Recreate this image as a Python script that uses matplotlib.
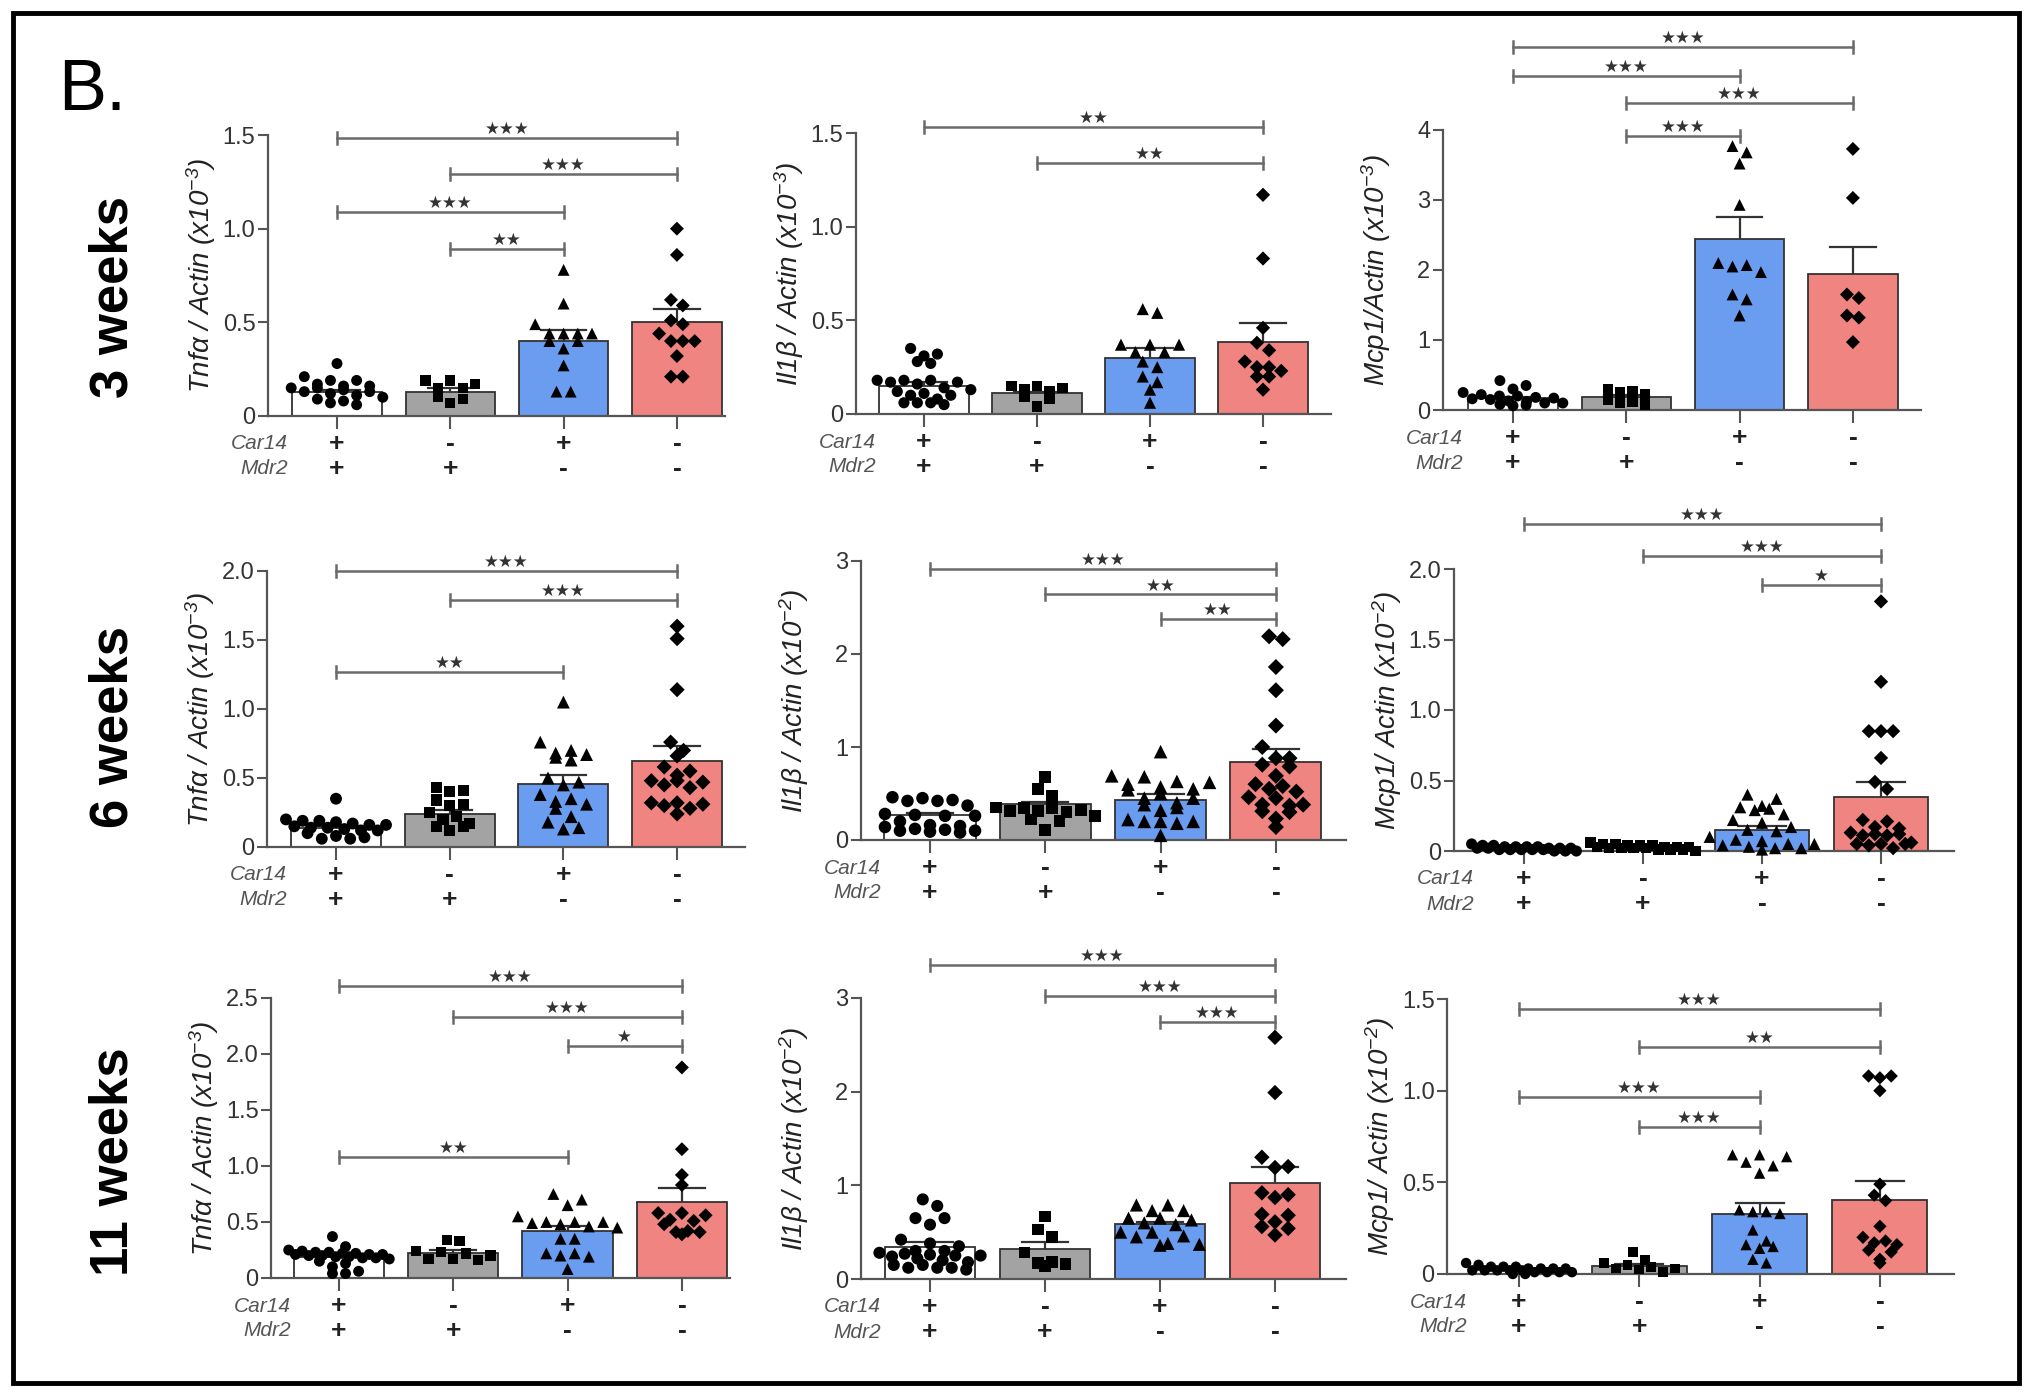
import matplotlib
matplotlib.use("Agg")
import matplotlib.pyplot as plt
import matplotlib.transforms as mtransforms
from matplotlib.patches import Rectangle
import numpy as np

# === CONFIGURATION ===
OUTPUT_FILENAME = "out.png"
W, H = 2036, 1394
DPI = 100

plt.rcParams['font.family'] = ['Liberation Sans', 'DejaVu Sans']
plt.rcParams['mathtext.default'] = 'regular'

# --- DATA ---
groups = ["Car14+/Mdr2+", "Car14-/Mdr2+", "Car14+/Mdr2-", "Car14-/Mdr2-"]
car14_signs = ["+", "-", "+", "-"]
mdr2_signs = ["+", "+", "-", "-"]

# 3 weeks
tnf_3w_pts = [
    [0.28, 0.21, 0.19, 0.19, 0.17, 0.16, 0.16, 0.15, 0.15, 0.14, 0.13, 0.13, 0.12, 0.11, 0.10, 0.09, 0.08, 0.07, 0.06],
    [0.19, 0.19, 0.17, 0.15, 0.15, 0.10, 0.09, 0.07],
    [0.78, 0.60, 0.49, 0.44, 0.44, 0.44, 0.44, 0.40, 0.40, 0.36, 0.27, 0.13, 0.13],
    [1.00, 0.86, 0.62, 0.59, 0.51, 0.49, 0.44, 0.40, 0.40, 0.40, 0.32, 0.21, 0.21],
]
tnf_3w_mean = [0.13, 0.13, 0.40, 0.50]
tnf_3w_sem = [0.01, 0.02, 0.06, 0.07]
tnf_3w_sig = [(0, 3, '***'), (1, 3, '***'), (0, 2, '***'), (1, 2, '**')]

il1b_3w_pts = [
    [0.35, 0.32, 0.31, 0.28, 0.27, 0.18, 0.18, 0.18, 0.17, 0.17, 0.16, 0.14, 0.13, 0.12, 0.11, 0.10, 0.10, 0.08, 0.06, 0.06, 0.06, 0.05],
    [0.15, 0.15, 0.14, 0.13, 0.12, 0.09, 0.08, 0.04],
    [0.56, 0.54, 0.37, 0.37, 0.37, 0.33, 0.33, 0.28, 0.25, 0.20, 0.17, 0.13, 0.06],
    [1.17, 0.83, 0.46, 0.38, 0.34, 0.28, 0.25, 0.25, 0.23, 0.20, 0.20, 0.13],
]
il1b_3w_mean = [0.15, 0.11, 0.30, 0.385]
il1b_3w_sem = [0.02, 0.01, 0.05, 0.10]
il1b_3w_sig = [(0, 3, '**'), (1, 3, '**')]

mcp1_3w_pts = [
    [0.42, 0.35, 0.30, 0.25, 0.22, 0.20, 0.20, 0.18, 0.17, 0.16, 0.15, 0.13, 0.12, 0.10, 0.10, 0.08, 0.07, 0.06],
    [0.30, 0.27, 0.25, 0.22, 0.15, 0.12, 0.10, 0.08],
    [3.77, 3.68, 3.52, 2.93, 2.10, 2.07, 2.05, 1.97, 1.65, 1.58, 1.35],
    [3.73, 3.03, 1.65, 1.60, 1.35, 1.32, 0.97],
]
mcp1_3w_mean = [0.17, 0.18, 2.45, 1.94]
mcp1_3w_sem = [0.02, 0.03, 0.31, 0.39]
mcp1_3w_sig = [(0, 3, '***'), (0, 2, '***'), (1, 3, '***'), (1, 2, '***')]

# 6 weeks
tnf_6w_pts = [
    [0.35, 0.20, 0.19, 0.19, 0.18, 0.17, 0.16, 0.16, 0.15, 0.14, 0.14, 0.13, 0.12, 0.12, 0.10, 0.08, 0.07, 0.06, 0.06],
    [0.43, 0.41, 0.40, 0.34, 0.31, 0.30, 0.25, 0.22, 0.20, 0.17, 0.15, 0.15, 0.12],
    [1.05, 0.76, 0.70, 0.68, 0.67, 0.65, 0.63, 0.50, 0.47, 0.45, 0.38, 0.35, 0.33, 0.31, 0.28, 0.22, 0.18, 0.14, 0.13],
    [1.60, 1.51, 1.14, 0.76, 0.70, 0.66, 0.58, 0.55, 0.52, 0.48, 0.48, 0.47, 0.45, 0.43, 0.32, 0.32, 0.31, 0.30, 0.28, 0.24],
]
tnf_6w_mean = [0.137, 0.24, 0.46, 0.625]
tnf_6w_sem = [0.015, 0.03, 0.06, 0.105]
tnf_6w_sig = [(0, 3, '***'), (1, 3, '***'), (0, 2, '**')]

il1b_6w_pts = [
    [0.46, 0.45, 0.43, 0.42, 0.42, 0.37, 0.28, 0.27, 0.26, 0.26, 0.20, 0.16, 0.15, 0.14, 0.12, 0.11, 0.10, 0.10, 0.09, 0.08],
    [0.68, 0.55, 0.47, 0.35, 0.34, 0.34, 0.32, 0.31, 0.31, 0.30, 0.26, 0.22, 0.20, 0.11],
    [0.95, 0.69, 0.68, 0.63, 0.62, 0.60, 0.57, 0.55, 0.54, 0.50, 0.45, 0.45, 0.40, 0.38, 0.35, 0.32, 0.22, 0.20, 0.20, 0.20, 0.18, 0.05],
    [2.19, 2.16, 1.86, 1.61, 1.23, 1.00, 0.88, 0.88, 0.81, 0.79, 0.69, 0.60, 0.58, 0.55, 0.52, 0.46, 0.45, 0.38, 0.38, 0.37, 0.31, 0.30, 0.23, 0.14],
]
il1b_6w_mean = [0.27, 0.39, 0.43, 0.84]
il1b_6w_sem = [0.02, 0.02, 0.06, 0.135]
il1b_6w_sig = [(0, 3, '***'), (1, 3, '**'), (2, 3, '**')]

mcp1_6w_pts = [
    [0.05, 0.04, 0.04, 0.03, 0.03, 0.03, 0.03, 0.02, 0.02, 0.02, 0.02, 0.02, 0.01, 0.01, 0.01, 0.01, 0.01, 0.00, 0.00, 0.00],
    [0.06, 0.05, 0.05, 0.04, 0.04, 0.04, 0.03, 0.03, 0.03, 0.03, 0.02, 0.02, 0.02, 0.02, 0.01, 0.01, 0.01, 0.00],
    [0.40, 0.37, 0.32, 0.31, 0.30, 0.29, 0.26, 0.22, 0.20, 0.17, 0.15, 0.14, 0.10, 0.08, 0.07, 0.05, 0.05, 0.04, 0.03, 0.02, 0.02, 0.01],
    [1.77, 1.20, 0.85, 0.85, 0.85, 0.66, 0.49, 0.44, 0.22, 0.21, 0.17, 0.16, 0.13, 0.12, 0.12, 0.11, 0.11, 0.06, 0.05, 0.05, 0.05, 0.04, 0.02],
]
mcp1_6w_mean = [0.02, 0.03, 0.15, 0.385]
mcp1_6w_sem = [0.003, 0.004, 0.03, 0.105]
mcp1_6w_sig = [(0, 3, '***'), (1, 3, '***'), (2, 3, '*')]

# 11 weeks
tnf_11w_pts = [
    [0.37, 0.28, 0.25, 0.24, 0.23, 0.23, 0.22, 0.22, 0.21, 0.21, 0.21, 0.20, 0.20, 0.19, 0.19, 0.18, 0.18, 0.17, 0.15, 0.13, 0.10, 0.06, 0.04, 0.04],
    [0.34, 0.33, 0.24, 0.23, 0.22, 0.20, 0.17, 0.17, 0.16],
    [0.75, 0.70, 0.65, 0.55, 0.50, 0.50, 0.50, 0.49, 0.48, 0.46, 0.45, 0.35, 0.35, 0.22, 0.22, 0.20, 0.19, 0.08],
    [1.88, 1.15, 0.92, 0.83, 0.58, 0.58, 0.56, 0.52, 0.51, 0.48, 0.42, 0.41, 0.41, 0.39],
]
tnf_11w_mean = [0.19, 0.22, 0.42, 0.68]
tnf_11w_sem = [0.015, 0.03, 0.04, 0.12]
tnf_11w_sig = [(0, 3, '***'), (1, 3, '***'), (2, 3, '*'), (0, 2, '**')]

il1b_11w_pts = [
    [0.85, 0.78, 0.65, 0.65, 0.58, 0.42, 0.38, 0.35, 0.30, 0.30, 0.28, 0.27, 0.26, 0.25, 0.25, 0.24, 0.22, 0.20, 0.18, 0.15, 0.15, 0.12, 0.12, 0.12, 0.10],
    [0.67, 0.53, 0.45, 0.28, 0.18, 0.17, 0.16, 0.14],
    [0.79, 0.79, 0.73, 0.73, 0.65, 0.65, 0.63, 0.60, 0.58, 0.50, 0.50, 0.46, 0.45, 0.38, 0.37, 0.36],
    [2.58, 1.99, 1.30, 1.20, 1.19, 0.92, 0.90, 0.87, 0.69, 0.68, 0.61, 0.56, 0.54, 0.47],
]
il1b_11w_mean = [0.34, 0.32, 0.585, 1.03]
il1b_11w_sem = [0.05, 0.08, 0.025, 0.17]
il1b_11w_sig = [(0, 3, '***'), (1, 3, '***'), (2, 3, '***')]

mcp1_11w_pts = [
    [0.06, 0.05, 0.04, 0.04, 0.04, 0.03, 0.03, 0.03, 0.03, 0.02, 0.02, 0.02, 0.02, 0.02, 0.01, 0.01, 0.01, 0.01, 0.00, 0.00],
    [0.12, 0.075, 0.06, 0.05, 0.04, 0.03, 0.03, 0.025, 0.01],
    [0.65, 0.65, 0.64, 0.61, 0.59, 0.55, 0.35, 0.34, 0.34, 0.33, 0.24, 0.18, 0.16, 0.15, 0.14, 0.08, 0.06],
    [1.08, 1.08, 1.07, 1.00, 0.49, 0.43, 0.40, 0.26, 0.20, 0.18, 0.17, 0.16, 0.13, 0.12, 0.08, 0.06],
]
mcp1_11w_mean = [0.02, 0.045, 0.33, 0.405]
mcp1_11w_sem = [0.003, 0.011, 0.06, 0.10]
mcp1_11w_sig = [(0, 3, '***'), (1, 3, '**'), (0, 2, '***'), (1, 2, '***')]

row_labels = ["3 weeks", "6 weeks", "11 weeks"]

# --- LAYOUT (figure pixels) ---
# axis x, baseline y, top-of-axis y, right end of x axis, first bar centre x, bar spacing
panel_boxes = [
    (268, 416, 135, 725, 337, 113.3), (856, 414, 133, 1331, 924, 113.0), (1443, 410, 130, 1921, 1513, 113.3),
    (267, 847, 571, 745, 336, 113.7), (861, 840, 561, 1346, 930, 115.3), (1454, 851, 569, 1954, 1524, 119.0),
    (271, 1278, 998, 730, 339, 114.3), (861, 1279, 998, 1346, 930, 115.0), (1447, 1274, 999, 1954, 1519, 120.3),
]
marker_scale = [1.1, 1.15, 1.1, 1.3, 1.45, 1.15, 1.1, 1.35, 1.0]
bracket_levels = [
    [1.485, 1.29, 1.09, 0.89], [1.53, 1.34], [5.18, 4.77, 4.38, 3.92],
    [2.0, 1.79, 1.27], [2.91, 2.64, 2.38], [2.32, 2.09, 1.89],
    [2.61, 2.33, 2.07, 1.08], [3.35, 3.02, 2.74], [1.445, 1.24, 0.968, 0.80],
]
row_label_y = [297, 727, 1162]

bar_colors = ['#ffffff', '#a3a3a3', '#6a9cf0', '#ef8480']
markers = ['o', 's', '^', 'D']
marker_sizes = [56, 50, 66, 46]
axis_color = '#555555'


def row_spread(vals, ppu, d, step, maxhalf):
    # GraphPad-like scatter: points closer than d (px) share a row and are spread sideways
    vals = np.asarray(vals, dtype=float)
    order = np.argsort(-vals, kind='stable')
    rows = []
    cur = [order[0]]
    start = vals[order[0]] * ppu
    for idx in order[1:]:
        if start - vals[idx] * ppu < d:
            cur.append(idx)
        else:
            rows.append(cur)
            cur = [idx]
            start = vals[idx] * ppu
    rows.append(cur)
    offs = np.zeros(len(vals))
    for row in rows:
        n = len(row)
        if n == 1:
            continue
        st = min(step, 2 * maxhalf / (n - 1))
        slots = [(j - (n - 1) / 2.0) * st for j in range(n)]
        # interleave so the row does not form a slope
        seq = list(range(0, n, 2)) + list(range(1, n, 2))
        for k, idx in enumerate(row):
            offs[idx] = slots[seq[k]]
    return offs


def ylabel_text(gene, sep, exp):
    return gene + sep + "Actin (x10$^{" + exp + "}$)"


def draw_panel(fig, box, mscale, pts, means, sems, sigs, levels, ymax, ticks, ticklabels, ylab):
    ax_x, y0, ytop, xend, first_c, spacing = box
    wpx = xend - ax_x
    hpx = y0 - ytop
    ax = fig.add_axes([ax_x / W, 1 - y0 / H, wpx / W, hpx / H])
    ax.patch.set_alpha(0)
    x_left = -(first_c - ax_x) / spacing
    ax.set_xlim(x_left, x_left + wpx / spacing)
    ax.set_ylim(0, ymax)
    ppu = hpx / ymax

    xs = np.arange(4)
    ax.bar(xs, means, width=0.79, color=bar_colors, edgecolor='#333333', linewidth=1.3, zorder=1)
    for i in range(4):
        top = means[i] + sems[i]
        ax.plot([i, i], [means[i], top], color='#333333', lw=1.6, zorder=2, solid_capstyle='butt')
        ax.plot([i - 0.2, i + 0.2], [top, top], color='#333333', lw=1.6, zorder=2)
        s = marker_sizes[i] * mscale
        diam = np.sqrt(s) * DPI / 72.0
        offs = row_spread(pts[i], ppu, 1.0 * diam, 1.2 * diam, 0.44 * spacing) / spacing
        ax.scatter(i + offs, pts[i], marker=markers[i], s=s, color='black',
                   edgecolors='none', zorder=3, clip_on=False)

    for spine in ['top', 'right']:
        ax.spines[spine].set_visible(False)
    for spine in ['left', 'bottom']:
        ax.spines[spine].set_color(axis_color)
        ax.spines[spine].set_linewidth(1.6)
    ax.set_yticks(ticks)
    ax.set_yticklabels(ticklabels, fontsize=17, color='#333333')
    ax.tick_params(axis='y', length=7, width=1.5, color=axis_color, pad=2)
    ax.set_xticks(xs)
    ax.set_xticklabels([])
    ax.tick_params(axis='x', length=9, width=1.5, color=axis_color)

    ax.text(-67.0 / wpx, 0.5, ylab, transform=ax.transAxes, rotation=90, ha='center', va='center',
            fontsize=20, style='italic', color='#222222')

    # genotype rows
    trans = mtransforms.blended_transform_factory(ax.transData, ax.transAxes)
    for r, (name, signs) in enumerate([("Car14", car14_signs), ("Mdr2", mdr2_signs)]):
        yy = -(28 + 25 * r) / hpx
        ax.text(x_left + 20 / spacing, yy, name, transform=trans, ha='right', va='center',
                fontsize=15, style='italic', color='#555555')
        for i, sg in enumerate(signs):
            ax.text(i, yy, sg, transform=trans, ha='center', va='center', fontsize=19,
                    fontweight='bold', color='#222222')

    # significance brackets
    tick_h = 6.0 / ppu
    for (a, b, lab), lev in zip(sigs, levels):
        ax.plot([a, b], [lev, lev], color='#6a6a6a', lw=1.8, clip_on=False, zorder=4)
        for xe in (a, b):
            ax.plot([xe, xe], [lev - tick_h, lev + tick_h], color='#6a6a6a', lw=1.8,
                    clip_on=False, zorder=4)
        stars = "\u2605" * len(lab)
        ax.text((a + b) / 2.0, lev + 4.0 / ppu, stars, ha='center', va='baseline', fontsize=12,
                color='#333333', family='DejaVu Sans', clip_on=False)
    return ax


def main():
    fig = plt.figure(figsize=(W / DPI, H / DPI), dpi=DPI)
    fig.patch.set_facecolor('white')

    t15 = ([0, 0.5, 1.0, 1.5], ['0', '0.5', '1.0', '1.5'])
    t20 = ([0, 0.5, 1.0, 1.5, 2.0], ['0', '0.5', '1.0', '1.5', '2.0'])
    t25 = ([0, 0.5, 1.0, 1.5, 2.0, 2.5], ['0', '0.5', '1.0', '1.5', '2.0', '2.5'])
    t3 = ([0, 1, 2, 3], ['0', '1', '2', '3'])
    t4 = ([0, 1, 2, 3, 4], ['0', '1', '2', '3', '4'])

    panels = [
        (tnf_3w_pts, tnf_3w_mean, tnf_3w_sem, tnf_3w_sig, 1.5, t15, ylabel_text("Tnf\u03b1", " / ", "-3")),
        (il1b_3w_pts, il1b_3w_mean, il1b_3w_sem, il1b_3w_sig, 1.5, t15, ylabel_text("Il1\u03b2", " / ", "-3")),
        (mcp1_3w_pts, mcp1_3w_mean, mcp1_3w_sem, mcp1_3w_sig, 4, t4, ylabel_text("Mcp1", "/", "-3")),
        (tnf_6w_pts, tnf_6w_mean, tnf_6w_sem, tnf_6w_sig, 2.0, t20, ylabel_text("Tnf\u03b1", " / ", "-3")),
        (il1b_6w_pts, il1b_6w_mean, il1b_6w_sem, il1b_6w_sig, 3, t3, ylabel_text("Il1\u03b2", " / ", "-2")),
        (mcp1_6w_pts, mcp1_6w_mean, mcp1_6w_sem, mcp1_6w_sig, 2.0, t20, ylabel_text("Mcp1", "/ ", "-2")),
        (tnf_11w_pts, tnf_11w_mean, tnf_11w_sem, tnf_11w_sig, 2.5, t25, ylabel_text("Tnf\u03b1", " / ", "-3")),
        (il1b_11w_pts, il1b_11w_mean, il1b_11w_sem, il1b_11w_sig, 3, t3, ylabel_text("Il1\u03b2", " / ", "-2")),
        (mcp1_11w_pts, mcp1_11w_mean, mcp1_11w_sem, mcp1_11w_sig, 1.5, t15, ylabel_text("Mcp1", "/ ", "-2")),
    ]
    for k, (pts, mean, sem, sig, ymax, tk, ylab) in enumerate(panels):
        draw_panel(fig, panel_boxes[k], marker_scale[k], pts, mean, sem, sig, bracket_levels[k],
                   ymax, tk[0], tk[1], ylab)

    # row titles and panel letter
    for lab, yy in zip(row_labels, row_label_y):
        fig.text(114 / W, 1 - yy / H, lab, rotation=90, ha='center', va='center',
                 fontsize=38, fontweight='bold', color='black')
    fig.text(92 / W, 1 - 92 / H, "B.", ha='center', va='center', fontsize=52, color='black')

    # outer frame
    fig.patches.append(Rectangle((13 / W, 1 - 1383 / H), (2019 - 13) / W, (1383 - 13) / H,
                                 transform=fig.transFigure, fill=False, lw=3.5, ec='black'))

    fig.savefig(OUTPUT_FILENAME, dpi=DPI, facecolor='white')


if __name__ == "__main__":
    main()
